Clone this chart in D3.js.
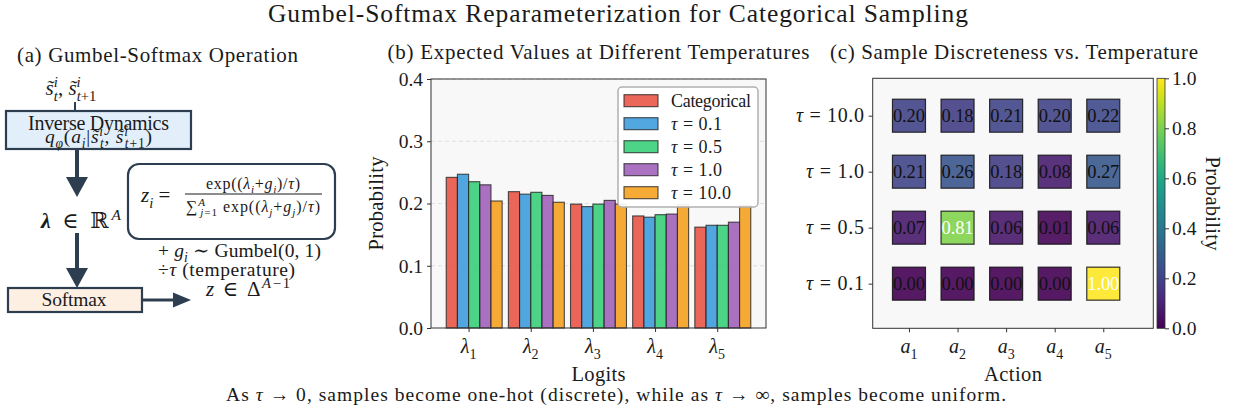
<!DOCTYPE html>
<html>
<head>
<meta charset="utf-8">
<script src="https://cdn.jsdelivr.net/npm/d3@7"></script>
<style>
  body { margin: 0; background: #fff; }
  svg { display: block; }
  text { font-family: "Liberation Serif", "DejaVu Serif", serif; fill: #1a1a1a; }
</style>
</head>
<body>
<svg id="fig" width="1235" height="413"></svg>
<script>
// ---------- data ----------
// (b) expected probability per logit, one array per sampler
const logitSubs = ['1', '2', '3', '4', '5'];
const seriesLabels = ['Categorical', '0.1', '0.5', '1.0', '10.0'];
const categorical = [0.242, 0.219, 0.199, 0.180, 0.162];
const tau01 = [0.247, 0.215, 0.195, 0.178, 0.165];
const tau05 = [0.235, 0.218, 0.199, 0.182, 0.165];
const tau10 = [0.230, 0.213, 0.205, 0.183, 0.170];
const tau100 = [0.204, 0.202, 0.199, 0.198, 0.197];
const probTicks = [0.0, 0.1, 0.2, 0.3, 0.4];

// (c) one Gumbel-Softmax sample per temperature
const temperatures = ['10.0', '1.0', '0.5', '0.1'];
const actionSubs = ['1', '2', '3', '4', '5'];
const sampleTau10 = [0.20, 0.18, 0.21, 0.20, 0.22];
const sampleTau1 = [0.21, 0.26, 0.18, 0.08, 0.27];
const sampleTau05 = [0.07, 0.81, 0.06, 0.01, 0.06];
const sampleTau01 = [0.00, 0.00, 0.00, 0.00, 1.00];
const colorbarTicks = [0.0, 0.2, 0.4, 0.6, 0.8, 1.0];

// ---------- styling ----------
const seriesColors = ['#e74c3c', '#3498db', '#2ecc71', '#9b59b6', '#f39c12'];
const ink = '#2c3e50';
const axesBg = '#f8f8f8';
const tickFont = 19.5;

const svg = d3.select('#fig');

// Text with italic / bold / sub- and superscript runs.
// parts: [string, flags, dx]  flags: i=italic b=bold _=sub ^=sup
function rich(parent, x, y, parts, size, anchor = 'start', width = null) {
  const t = parent.append('text')
    .attr('x', x).attr('y', y)
    .attr('font-size', size)
    .attr('text-anchor', anchor);
  if (width) t.attr('textLength', width).attr('lengthAdjust', 'spacing');
  let shift = 0;
  parts.forEach(p => {
    const [str, flags = '', dx = 0] = p;
    const sub = flags.includes('_'), sup = flags.includes('^');
    const target = sub ? size * 0.28 : sup ? -size * 0.38 : 0;
    const ts = t.append('tspan').text(str).attr('dy', target - shift);
    if (dx) ts.attr('dx', dx);
    shift = target;
    if (flags.includes('i')) ts.attr('font-style', 'italic');
    if (flags.includes('b')) ts.attr('font-weight', 'bold');
    if (sub || sup) ts.attr('font-size', size * 0.7);
  });
  return t;
}

function label(parent, x, y, str, size, anchor = 'start', width = null) {
  const t = parent.append('text').attr('x', x).attr('y', y)
    .attr('font-size', size).attr('text-anchor', anchor).text(str);
  if (width) t.attr('textLength', width).attr('lengthAdjust', 'spacing');
  return t;
}

// ---------- figure title & footer ----------
label(svg, 618, 22, 'Gumbel-Softmax Reparameterization for Categorical Sampling', 25.5, 'middle', 700);

rich(svg, 616, 401, [
  ['As '], ['τ', 'i'], [' → 0, samples become one-hot (discrete), while as '],
  ['τ', 'i'], [' → ∞, samples become uniform.']
], 19.5, 'middle', 780);

// ---------- (a) operation diagram ----------
const gA = svg.append('g');
label(gA, 17, 62, '(a) Gumbel-Softmax Operation', 21, 'start', 281);

function arrow(g, x1, y1, x2, y2, headLen, headW, shaftW) {
  const ang = Math.atan2(y2 - y1, x2 - x1);
  const bx = x2 - headLen * Math.cos(ang), by = y2 - headLen * Math.sin(ang);
  g.append('line').attr('x1', x1).attr('y1', y1).attr('x2', bx).attr('y2', by)
    .attr('stroke', ink).attr('stroke-width', shaftW);
  const nx = -Math.sin(ang) * headW / 2, ny = Math.cos(ang) * headW / 2;
  g.append('polygon')
    .attr('points', `${bx + nx},${by + ny} ${bx - nx},${by - ny} ${x2},${y2}`)
    .attr('fill', ink);
}

rich(gA, 71, 95, [
  ['s̃', 'i'], ['i', '^i'], ['t', '_i', -4], [', '],
  ['s̃', 'i'], ['i', '^i'], ['t', '_i', -4], ['+1', '_']
], 21, 'middle');
gA.append('line').attr('x1', 75).attr('y1', 102).attr('x2', 75).attr('y2', 111)
  .attr('stroke', ink).attr('stroke-width', 2);

gA.append('rect').attr('x', 6).attr('y', 111).attr('width', 185).attr('height', 38)
  .attr('fill', '#e2effb').attr('stroke', ink).attr('stroke-width', 2.2);
label(gA, 98.5, 130, 'Inverse Dynamics', 20, 'middle', 141);
rich(gA, 98.5, 143, [
  ['q', 'i'], ['φ', '_i'], ['('], ['a', 'i'], ['i', '_i'], ['|'],
  ['s̃', 'i'], ['i', '^i'], ['t', '_i', -4], [', '],
  ['s̃', 'i'], ['i', '^i'], ['t', '_i', -4], ['+1', '_'], [')']
], 19.5, 'middle', 107);

arrow(gA, 77, 149, 77, 197, 20, 22, 4);
rich(gA, 81, 228, [['λ', 'ib'], [' ∈ ℝ'], ['A', '^i']], 22, 'middle', 80);
arrow(gA, 77, 233, 77, 288, 20, 22, 4);

gA.append('rect').attr('x', 8).attr('y', 288).attr('width', 134).attr('height', 24)
  .attr('fill', '#fdefe2').attr('stroke', ink).attr('stroke-width', 2.2);
label(gA, 74, 306, 'Softmax', 19.5, 'middle', 65);
arrow(gA, 142, 300, 191, 300, 18, 15, 3);

// softmax formula box
gA.append('rect').attr('x', 128).attr('y', 164).attr('width', 207).attr('height', 75)
  .attr('rx', 11).attr('fill', '#fff').attr('stroke', ink).attr('stroke-width', 2.2);
rich(gA, 141, 202, [['z', 'i'], ['i', '_i'], [' =']], 21);
gA.append('line').attr('x1', 185).attr('x2', 322).attr('y1', 194).attr('y2', 194)
  .attr('stroke', '#1a1a1a').attr('stroke-width', 1);
rich(gA, 253, 189, [
  ['exp(('], ['λ', 'i'], ['i', '_i'], ['+'], ['g', 'i'], ['i', '_i'], [')/'], ['τ', 'i'], [')']
], 16, 'middle', 94);
rich(gA, 253, 212, [
  ['∑'], ['A', '^i'], ['j', '_i', -6], ['=1', '_'], [' exp(('], ['λ', 'i'], ['j', '_i'], ['+'],
  ['g', 'i'], ['j', '_i'], [')/'], ['τ', 'i'], [')']
], 16, 'middle', 134);

rich(gA, 158, 257, [['+ '], ['g', 'i'], ['i', '_i'], [' ∼ Gumbel(0, 1)']], 19.5, 'start', 163);
rich(gA, 158, 276, [['÷'], ['τ', 'i'], [' (temperature)']], 19.5, 'start', 137);
rich(gA, 206, 296, [['z', 'i'], [' ∈ Δ'], ['A', '^i'], ['−1', '^']], 21, 'start', 84);

// ---------- (b) expected values ----------
const gB = svg.append('g');
const series = [categorical, tau01, tau05, tau10, tau100];
const barW = 0.18;
const xB = d3.scaleLinear().domain([-0.335, 5.055]).range([431, 766]);
const yB = d3.scaleLinear().domain([0, 0.4]).range([328, 79]);

gB.append('rect').attr('x', xB.range()[0]).attr('y', yB.range()[1])
  .attr('width', xB.range()[1] - xB.range()[0]).attr('height', yB.range()[0] - yB.range()[1])
  .attr('fill', axesBg);

// dashed horizontal grid
gB.append('g').selectAll('line').data(probTicks.slice(1)).join('line')
  .attr('x1', xB.range()[0]).attr('x2', xB.range()[1])
  .attr('y1', d => yB(d)).attr('y2', d => yB(d))
  .attr('stroke', '#d9d9d9').attr('stroke-width', 0.8).attr('stroke-dasharray', '4,3');

series.forEach((vals, s) => {
  gB.append('g').selectAll('rect').data(vals).join('rect')
    .attr('x', (d, i) => xB(i + s * barW - barW / 2))
    .attr('width', xB(barW) - xB(0))
    .attr('y', d => yB(d))
    .attr('height', d => yB(0) - yB(d))
    .attr('fill', seriesColors[s]).attr('fill-opacity', 0.85)
    .attr('stroke', '#222').attr('stroke-opacity', 0.8).attr('stroke-width', 1.1);
});

// frame
gB.append('rect').attr('x', xB.range()[0]).attr('y', yB.range()[1])
  .attr('width', xB.range()[1] - xB.range()[0]).attr('height', yB.range()[0] - yB.range()[1])
  .attr('fill', 'none').attr('stroke', '#333').attr('stroke-width', 1);

const yAxisB = gB.append('g').attr('transform', `translate(${xB.range()[0]},0)`)
  .call(d3.axisLeft(yB).tickValues(probTicks).tickFormat(d3.format('.1f')).tickSize(4).tickPadding(4));
yAxisB.select('.domain').remove();
yAxisB.selectAll('line').attr('stroke', '#333');
yAxisB.selectAll('text').attr('font-size', tickFont).attr('font-family', null).attr('fill', '#1a1a1a');

const xTickPos = logitSubs.map((d, i) => i + 1.5 * barW);
const xAxisB = gB.append('g').attr('transform', `translate(0,${yB.range()[0]})`)
  .call(d3.axisBottom(xB).tickValues(xTickPos).tickFormat('').tickSize(4));
xAxisB.select('.domain').remove();
xAxisB.selectAll('line').attr('stroke', '#333');
logitSubs.forEach((sub, i) => {
  rich(gB, xB(xTickPos[i]), 353, [['λ', 'i'], [sub, '_']], 20, 'middle');
});

gB.append('text').attr('transform', 'translate(383,203.5) rotate(-90)')
  .attr('text-anchor', 'middle').attr('font-size', 20.5)
  .attr('textLength', 94).attr('lengthAdjust', 'spacing').text('Probability');
label(gB, 598.5, 381, 'Logits', 20.5, 'middle', 54);
label(gB, 598.5, 59, '(b) Expected Values at Different Temperatures', 21, 'middle', 422);

// legend
const lg = gB.append('g').attr('transform', 'translate(618,87)');
lg.append('rect').attr('width', 140).attr('height', 120).attr('rx', 4)
  .attr('fill', '#fff').attr('fill-opacity', 0.92)
  .attr('stroke', '#b0b0b0').attr('stroke-width', 1.5);
seriesLabels.forEach((lab, s) => {
  const cy = 13.7 + s * 23;
  lg.append('rect').attr('x', 6).attr('y', cy - 6).attr('width', 34).attr('height', 12)
    .attr('fill', seriesColors[s]).attr('fill-opacity', 0.85)
    .attr('stroke', '#222').attr('stroke-opacity', 0.8).attr('stroke-width', 1.1);
  if (s === 0) {
    label(lg, 53, cy + 6, lab, 18, 'start', 80);
  } else {
    rich(lg, 53, cy + 6, [['τ', 'i'], [' = ' + lab]], 18, 'start', s === 4 ? 60 : 51);
  }
});

// ---------- (c) sample discreteness ----------
const gC = svg.append('g');
const samples = [sampleTau10, sampleTau1, sampleTau05, sampleTau01];
const xC = d3.scaleLinear().domain([-0.747, 5.03]).range([872.7, 1153.3]);
const yC = d3.scaleLinear().domain([-0.668, 3.797]).range([78.3, 328.3]);
const color = d3.scaleSequential(d3.interpolateViridis).domain([0, 1]);
const cell = 33;

gC.append('rect').attr('x', xC.range()[0]).attr('y', yC.range()[0])
  .attr('width', xC.range()[1] - xC.range()[0]).attr('height', yC.range()[1] - yC.range()[0])
  .attr('fill', axesBg).attr('stroke', '#333').attr('stroke-width', 1);

samples.forEach((row, r) => {
  row.forEach((v, c) => {
    gC.append('rect')
      .attr('x', xC(c) - cell / 2).attr('y', yC(r) - cell / 2)
      .attr('width', cell).attr('height', cell)
      .attr('fill', color(v)).attr('fill-opacity', 0.9)
      .attr('stroke', '#111').attr('stroke-opacity', 0.85).attr('stroke-width', 1.2);
    label(gC, xC(c), yC(r) + 6.5, d3.format('.2f')(v), 18.5, 'middle', 32)
      .style('fill', v > 0.5 ? '#fff' : '#111');
  });
});

const yAxisC = gC.append('g').attr('transform', `translate(${xC.range()[0]},0)`)
  .call(d3.axisLeft(yC).tickValues(d3.range(temperatures.length)).tickFormat('').tickSize(4));
yAxisC.select('.domain').remove();
yAxisC.selectAll('line').attr('stroke', '#333');
temperatures.forEach((t, r) => {
  rich(gC, 864, yC(r) + 6.5, [['τ', 'i'], [' = ' + t]], 20, 'end', t.length > 3 ? 68 : 58);
});

const xAxisC = gC.append('g').attr('transform', `translate(0,${yC.range()[1]})`)
  .call(d3.axisBottom(xC).tickValues(d3.range(actionSubs.length)).tickFormat('').tickSize(4));
xAxisC.select('.domain').remove();
xAxisC.selectAll('line').attr('stroke', '#333');
actionSubs.forEach((sub, c) => {
  rich(gC, xC(c), 353, [['a', 'i'], [sub, '_']], 20, 'middle');
});

label(gC, 1013, 381, 'Action', 20.5, 'middle', 58);
label(gC, 1014, 59, '(c) Sample Discreteness vs. Temperature', 21, 'middle', 368);

// colorbar
const cbY = d3.scaleLinear().domain([0, 1]).range([328.3, 78.3]);
const grad = svg.append('defs').append('linearGradient').attr('id', 'viridis')
  .attr('x1', 0).attr('y1', 1).attr('x2', 0).attr('y2', 0);
d3.range(0, 1.0001, 0.05).forEach(t => {
  grad.append('stop').attr('offset', t).attr('stop-color', color(t));
});
gC.append('rect').attr('x', 1157).attr('y', cbY(1)).attr('width', 8)
  .attr('height', cbY(0) - cbY(1)).attr('fill', 'url(#viridis)')
  .attr('stroke', '#333').attr('stroke-width', 0.8);
const cbAxis = gC.append('g').attr('transform', 'translate(1165,0)')
  .call(d3.axisRight(cbY).tickValues(colorbarTicks).tickFormat(d3.format('.1f')).tickSize(4).tickPadding(3));
cbAxis.select('.domain').remove();
cbAxis.selectAll('line').attr('stroke', '#333');
cbAxis.selectAll('text').attr('font-size', tickFont).attr('font-family', null).attr('fill', '#1a1a1a');
gC.append('text').attr('transform', 'translate(1206,203.5) rotate(90)')
  .attr('text-anchor', 'middle').attr('font-size', 20.5)
  .attr('textLength', 94).attr('lengthAdjust', 'spacing').text('Probability');
</script>
</body>
</html>
